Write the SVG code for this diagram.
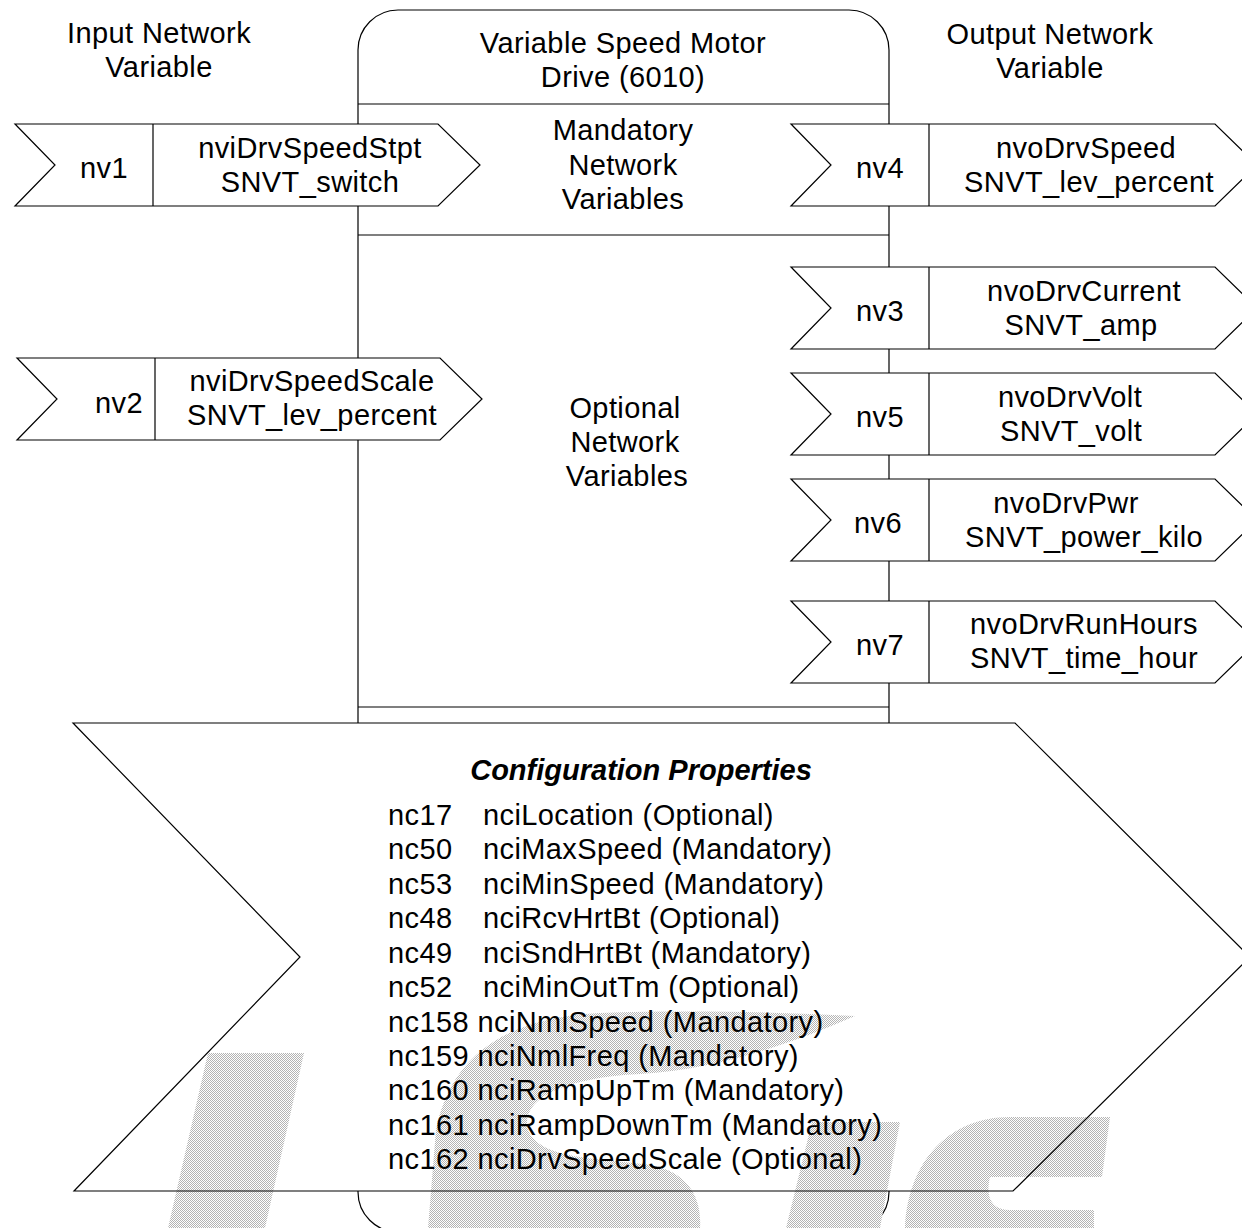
<svg xmlns="http://www.w3.org/2000/svg" width="1242" height="1228" viewBox="0 0 1242 1228">
<style>
  .ln{stroke:#000;stroke-width:1.2;fill:none}
  .sh{stroke:#000;stroke-width:1.2;fill:#fff}
  text{font-family:"Liberation Sans",Arial,sans-serif;font-size:29px;letter-spacing:0.4px;fill:#000}
  .c{text-anchor:middle}
  .b{font-weight:bold;font-style:italic;letter-spacing:0}
  .wm{fill:url(#dither)}
</style>
<defs>
  <pattern id="dither" width="2" height="2" patternUnits="userSpaceOnUse">
    <rect width="2" height="2" fill="#fff"/>
    <rect width="1" height="1" fill="#b4b4b4"/>
    <rect x="1" y="1" width="1" height="1" fill="#b4b4b4"/>
  </pattern>
</defs>
<rect width="1242" height="1228" fill="#fff"/>

<g id="headers">
  <text class="c" x="159" y="43">Input Network</text>
  <text class="c" x="159" y="77">Variable</text>
  <text class="c" x="1050" y="44">Output Network</text>
  <text class="c" x="1050" y="78">Variable</text>
</g>

<g id="drive">
  <rect class="sh" x="358" y="10" width="531" height="1222" rx="40" ry="40"/>
  <line class="ln" x1="358" y1="104" x2="889" y2="104"/>
  <line class="ln" x1="358" y1="235" x2="889" y2="235"/>
  <line class="ln" x1="358" y1="707" x2="889" y2="707"/>
  <text class="c" x="623" y="53">Variable Speed Motor</text>
  <text class="c" x="623" y="87">Drive (6010)</text>
  <text class="c" x="623" y="140">Mandatory</text>
  <text class="c" x="623" y="175">Network</text>
  <text class="c" x="623" y="209">Variables</text>
  <text class="c" x="625" y="418">Optional</text>
  <text class="c" x="625" y="452">Network</text>
  <text class="c" x="627" y="486">Variables</text>
</g>

<g id="nv1">
  <polygon class="sh" points="15,124 438,124 480,165 438,206 15,206 55,165"/>
  <line class="ln" x1="153" y1="124" x2="153" y2="206"/>
  <text class="c" x="104" y="178">nv1</text>
  <text class="c" x="310" y="158">nviDrvSpeedStpt</text>
  <text class="c" x="310" y="192">SNVT_switch</text>
</g>
<g id="nv2">
  <polygon class="sh" points="17,358 440,358 482,399 440,440 17,440 57,399"/>
  <line class="ln" x1="155" y1="358" x2="155" y2="440"/>
  <text class="c" x="119" y="413">nv2</text>
  <text class="c" x="312" y="391">nviDrvSpeedScale</text>
  <text class="c" x="312" y="425">SNVT_lev_percent</text>
</g>

<g id="nv4">
  <polygon class="sh" points="791,124 1215,124 1257,165 1215,206 791,206 831,165"/>
  <line class="ln" x1="929" y1="124" x2="929" y2="206"/>
  <text class="c" x="880" y="178">nv4</text>
  <text class="c" x="1086" y="158">nvoDrvSpeed</text>
  <text class="c" x="1089" y="192">SNVT_lev_percent</text>
</g>
<g id="nv3">
  <polygon class="sh" points="791,267 1215,267 1257,308 1215,349 791,349 831,308"/>
  <line class="ln" x1="929" y1="267" x2="929" y2="349"/>
  <text class="c" x="880" y="321">nv3</text>
  <text class="c" x="1084" y="301">nvoDrvCurrent</text>
  <text class="c" x="1081" y="335">SNVT_amp</text>
</g>
<g id="nv5">
  <polygon class="sh" points="791,373 1215,373 1257,414 1215,455 791,455 831,414"/>
  <line class="ln" x1="929" y1="373" x2="929" y2="455"/>
  <text class="c" x="880" y="427">nv5</text>
  <text class="c" x="1070" y="407">nvoDrvVolt</text>
  <text class="c" x="1071" y="441">SNVT_volt</text>
</g>
<g id="nv6">
  <polygon class="sh" points="791,479 1215,479 1257,520 1215,561 791,561 831,520"/>
  <line class="ln" x1="929" y1="479" x2="929" y2="561"/>
  <text class="c" x="878" y="533">nv6</text>
  <text class="c" x="1066" y="513">nvoDrvPwr</text>
  <text class="c" x="1084" y="547">SNVT_power_kilo</text>
</g>
<g id="nv7">
  <polygon class="sh" points="791,601 1215,601 1257,642 1215,683 791,683 831,642"/>
  <line class="ln" x1="929" y1="601" x2="929" y2="683"/>
  <text class="c" x="880" y="655">nv7</text>
  <text class="c" x="1084" y="634">nvoDrvRunHours</text>
  <text class="c" x="1084" y="668">SNVT_time_hour</text>
</g>

<g id="config">
  <polygon fill="#fff" stroke="none" points="73,723 1015,723 1250,957 1013,1191 74,1191 300,957"/>
  <g id="watermark">
    <polygon class="wm" points="208,1053 304,1053 265,1228 168,1228"/>
    <path class="wm" d="M855,1016 C780,1012 690,1010 600,1013 C500,1018 450,1060 436,1130 L428,1228 L700,1228 C702,1200 690,1172 650,1165 C600,1158 540,1160 528,1130 C520,1100 560,1078 640,1074 C720,1070 800,1040 855,1016 Z"/>
    <polygon class="wm" points="812,1122 900,1122 880,1228 786,1228"/>
    <path class="wm" d="M1110,1117 L1010,1117 C950,1117 908,1160 905,1228 L1094,1228 L1094,1210 L1010,1210 C992,1210 985,1198 990,1177 L1102,1177 Z"/>
  </g>
  <polygon fill="none" stroke="#000" stroke-width="1.2" points="73,723 1015,723 1250,957 1013,1191 74,1191 300,957"/>
  <text class="c b" x="641" y="780">Configuration Properties</text>
  <text x="388" y="825">nc17<tspan x="483">nciLocation (Optional)</tspan></text>
  <text x="388" y="859">nc50<tspan x="483">nciMaxSpeed (Mandatory)</tspan></text>
  <text x="388" y="894">nc53<tspan x="483">nciMinSpeed (Mandatory)</tspan></text>
  <text x="388" y="928">nc48<tspan x="483">nciRcvHrtBt (Optional)</tspan></text>
  <text x="388" y="963">nc49<tspan x="483">nciSndHrtBt (Mandatory)</tspan></text>
  <text x="388" y="997">nc52<tspan x="483">nciMinOutTm (Optional)</tspan></text>
  <text x="388" y="1032">nc158 nciNmlSpeed (Mandatory)</text>
  <text x="388" y="1066">nc159 nciNmlFreq (Mandatory)</text>
  <text x="388" y="1100">nc160 nciRampUpTm (Mandatory)</text>
  <text x="388" y="1135">nc161 nciRampDownTm (Mandatory)</text>
  <text x="388" y="1169">nc162 nciDrvSpeedScale (Optional)</text>
</g>
</svg>
